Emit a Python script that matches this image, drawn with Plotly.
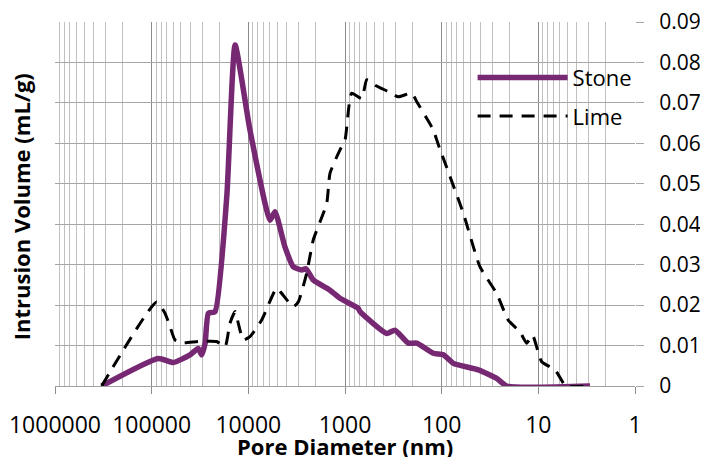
import plotly.graph_objects as go

# Pore diameter (nm) and intrusion volume (mL/g)
stone_d = [329000, 85300, 59700, 40100, 33000, 30400, 28000, 25900, 22100, 16700, 13700,
           9620, 5970, 5300, 4180, 3430, 2810, 2530, 2130, 1430, 1127, 729, 700, 371, 304,
           221, 181, 122, 96, 75.8, 41.8, 27, 21.2, 2.92]
stone_v = [0, 0.0068, 0.0058, 0.0077, 0.0093, 0.0077, 0.0106, 0.018, 0.0184, 0.0469, 0.0843,
           0.0633, 0.041, 0.0431, 0.0344, 0.0295, 0.0287, 0.029, 0.0262, 0.0237, 0.0217, 0.0192, 0.0184, 0.013, 0.0138,
           0.0106, 0.0106, 0.0081, 0.0077, 0.0056, 0.004, 0.0019, 0, 0]

lime_d = [329000, 88700, 72800, 64600, 57400, 47100, 33000, 21300, 17400, 15500, 13700, 12700,
          11300, 9620, 7280, 5090, 4520, 3430, 3040, 2490, 2130, 1545, 1430, 1127, 1000, 853,
          672, 597, 530, 490, 357, 281, 204, 181, 143, 122, 108, 59.7, 40.2, 27, 20.5, 15.5,
          13.2, 11.5, 9.23, 6.73, 5.52, 5.3, 2.92]
lime_v = [0, 0.0208, 0.018, 0.0147, 0.0114, 0.0107, 0.011, 0.011, 0.0097, 0.0155, 0.0184, 0.0155,
          0.0114, 0.0122, 0.0163, 0.0242, 0.0229, 0.0196, 0.0208, 0.0279, 0.0361, 0.0452, 0.0526, 0.0584, 0.0608, 0.0724,
          0.0711, 0.0757, 0.0753, 0.0744, 0.0728, 0.0715, 0.0724, 0.0703, 0.0662, 0.0633, 0.0596, 0.0427, 0.0295, 0.0229, 0.0163, 0.0134,
          0.0106, 0.0126, 0.006, 0.004, 0.0007, 0, 0]

x_tickvals = [1000000, 100000, 10000, 1000, 100, 10, 1]
x_ticktext = ["1000000", "100000", "10000", "1000", "100", "10", "1"]

FONT = "Open Sans"
fig = go.Figure()
fig.add_trace(go.Scatter(x=stone_d, y=stone_v, name="Stone", mode="lines", legendgroup="a",
                         line=dict(color="#772873", width=5.5, shape="spline", smoothing=0.5)))
fig.add_trace(go.Scatter(x=lime_d, y=lime_v, name="Lime", mode="lines", legendgroup="b",
                         line=dict(color="black", width=3, dash="13px,9px", shape="spline", smoothing=0.5)))

# page body has an 8px margin, so the figure is drawn at (8, 8) in the window
fig.update_layout(
    width=700, height=449,
    margin=dict(l=47, r=73, t=14, b=71),
    paper_bgcolor="white", plot_bgcolor="white",
    font=dict(family=FONT, size=22, color="black"),
    showlegend=True,
    legend=dict(x=0.72, y=0.905, xanchor="left", yanchor="top", bgcolor="rgba(0,0,0,0)",
                font=dict(size=22), itemwidth=90, traceorder="grouped", tracegroupgap=7),
    xaxis=dict(type="log", range=[6, 0], tickvals=x_tickvals, ticktext=x_ticktext,
               automargin=False, ticklabeloverflow="allow",
               showgrid=True, gridcolor="#8c8c8c", gridwidth=1,
               minor=dict(dtick="D1", showgrid=True, gridcolor="#c0c0c0", gridwidth=1, ticks=""),
               ticks="outside", ticklen=7, tickcolor="#8c8c8c",
               showline=True, linecolor="#a0a0a0", mirror=False, zeroline=False,
               tickfont=dict(size=23), ticklabelstandoff=11),
    yaxis=dict(range=[0, 0.09], dtick=0.01, side="right", automargin=False,
               ticklabeloverflow="allow",
               showgrid=True, gridcolor="#a6a6a6", gridwidth=1,
               ticks="outside", ticklen=8, tickcolor="#a6a6a6",
               showline=False, zeroline=False,
               tickfont=dict(size=21), ticklabelstandoff=11),
    annotations=[
        dict(text="<b>Intrusion Volume (mL/g)</b>", xref="paper", yref="paper",
             x=-0.058, y=0.492, xanchor="center", yanchor="middle", textangle=-90,
             showarrow=False, font=dict(size=22, family=FONT)),
        dict(text="<b>Pore Diameter (nm)</b>", xref="paper", yref="paper",
             x=0.5, y=-0.165, xanchor="center", yanchor="middle",
             showarrow=False, font=dict(size=22, family=FONT)),
    ],
)

fig.write_html("out.html")
